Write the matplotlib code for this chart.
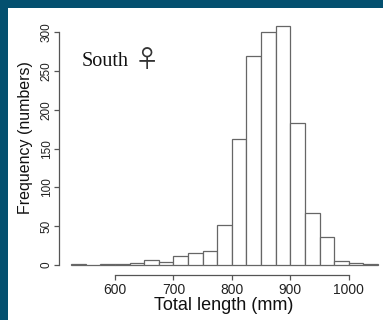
import numpy as np
import matplotlib
matplotlib.use("Agg")
import matplotlib.pyplot as plt
from matplotlib.patches import Rectangle

plt.rcParams['font.family'] = ['Liberation Sans', 'DejaVu Sans']

# Histogram data: 25 mm bins, counts
bin_left = np.arange(525, 1050, 25)
counts = [1, 0, 1, 1, 3, 7, 4, 11, 16, 18, 51, 163, 269, 300, 308, 183, 67, 36, 5, 2, 1]
bin_width = 25

xticks = [600, 700, 800, 900, 1000]
yticks = [0, 50, 100, 150, 200, 250, 300]

W, H = 383, 320
fig = plt.figure(figsize=(W / 100, H / 100), dpi=100)
fig.patch.set_facecolor('#04506F')
fig.patches.append(Rectangle((8 / W, 0), 1 - 8 / W, (H - 8) / H,
                             transform=fig.transFigure, facecolor='white',
                             edgecolor='none', zorder=-10))

# axes box in pixels: left 59, right 380, top 20, bottom 275
L, R, T, B = 59, 380, 20, 275
ax = fig.add_axes([L / W, (H - B) / H, (R - L) / W, (B - T) / H])
ax.patch.set_alpha(0)

ax.bar(bin_left, counts, width=bin_width, align='edge', facecolor='white',
       edgecolor='#666666', linewidth=0.9)

px_per_x = 0.5843
px_per_y = 0.7757
ax.set_xlim(600 + (L - 115) / px_per_x, 600 + (R - 115) / px_per_x)
ax.set_ylim((265 - B) / px_per_y, (265 - T) / px_per_y)

for s in ['top', 'right']:
    ax.spines[s].set_visible(False)
ax.spines['left'].set_bounds(0, 300)
ax.spines['bottom'].set_bounds(600, 1000)
for s in ['left', 'bottom']:
    ax.spines[s].set_color('#555555')
    ax.spines[s].set_linewidth(0.9)

ax.set_xticks(xticks)
ax.set_yticks(yticks)
ax.tick_params(axis='x', length=3.6, width=0.9, color='#555555', pad=2.5,
               labelsize=10, labelcolor='#222222')
ax.tick_params(axis='y', length=3.6, width=0.9, color='#555555', pad=1,
               labelsize=8.5, labelcolor='#222222', labelrotation=90)
for lab in ax.get_yticklabels():
    lab.set_va('center')

ax.set_xlabel('Total length (mm)', fontsize=13, color='#111111')
ax.xaxis.set_label_coords((223.7 - L) / (R - L), -(297 - B) / (B - T))
ax.set_ylabel('Frequency (numbers)', fontsize=11.5, color='#111111')
ax.yaxis.set_label_coords(-(L - 33) / (R - L), (B - 137.5) / (B - T))

ax.text(543.5, 257, 'South', fontsize=14.5, va='baseline', ha='left',
        family='Liberation Serif', color='#111111')
ax.text(633, 264, '\u2640', fontsize=17.5, va='center', ha='left',
        family=['Noto Sans CJK JP', 'DejaVu Sans'], color='#333333')

fig.savefig('out.png', dpi=100, facecolor=fig.get_facecolor())
